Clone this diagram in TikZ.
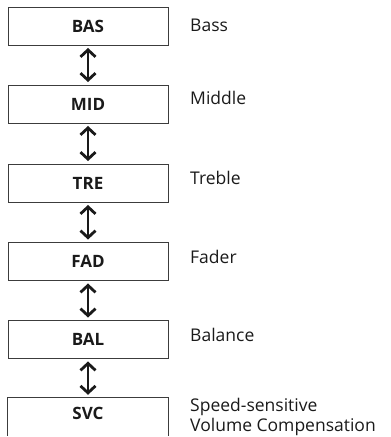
\documentclass[tikz,border=0pt]{standalone}
\usepackage{fontspec}
\setmainfont{Open Sans}
\usetikzlibrary{arrows.meta}
\definecolor{ink}{HTML}{1A1A1A}
\tikzset{
  boxfont/.style={font=\bfseries\fontsize{17}{20}\selectfont, text=ink},
  box/.style={boxfont, draw=ink!85, line width=0.9pt, minimum width=160pt, minimum height=38pt, inner sep=0pt},
  openbox/.style={minimum width=160pt, minimum height=38pt, inner sep=0pt},
  lbl/.style={anchor=west, inner sep=0pt, font=\fontsize{17.5}{20}\selectfont, text=ink, align=left},
  dbl/.style={draw=ink, line width=2.8pt, {Straight Barb[length=7pt,width=15pt]}-{Straight Barb[length=7pt,width=15pt]}, shorten <=2.5pt, shorten >=2.5pt}
}
\begin{document}
\begin{tikzpicture}[x=1pt,y=-1pt]
\useasboundingbox (0,0) rectangle (391,437);
\node[box] (bas) at (88,26) {BAS};
\node[box] (mid) at (88,104) {MID};
\node[box] (tre) at (88,183) {TRE};
\node[box] (fad) at (88,261.5) {FAD};
\node[box] (bal) at (88,339.5) {BAL};
\node[openbox] (svc) at (88,416.5) {};
\node[boxfont, inner sep=0pt] (svct) at (88,413) {SVC};
\draw[draw=ink!85, line width=0.9pt] (svc.south west) -- (svc.north west) -- (svc.north east) -- (svc.south east);
\draw[dbl] (bas.south) -- (mid.north);
\draw[dbl] (mid.south) -- (tre.north);
\draw[dbl] (tre.south) -- (fad.north);
\draw[dbl] (fad.south) -- (bal.north);
\draw[dbl] (bal.south) -- (svc.north);
\node[lbl] (lbas) at (190,25) {Bass};
\node[lbl] (lmid) at (190,98) {Middle};
\node[lbl] (ltre) at (190,178) {Treble};
\node[lbl] (lfad) at (190,257) {Fader};
\node[lbl] (lbal) at (190,335) {Balance};
\node[lbl] (lsvc1) at (190,407) {Speed-sensitive};
\node[lbl] (lsvc2) at (190,427) {Volume Compensation};
\end{tikzpicture}
\end{document}
